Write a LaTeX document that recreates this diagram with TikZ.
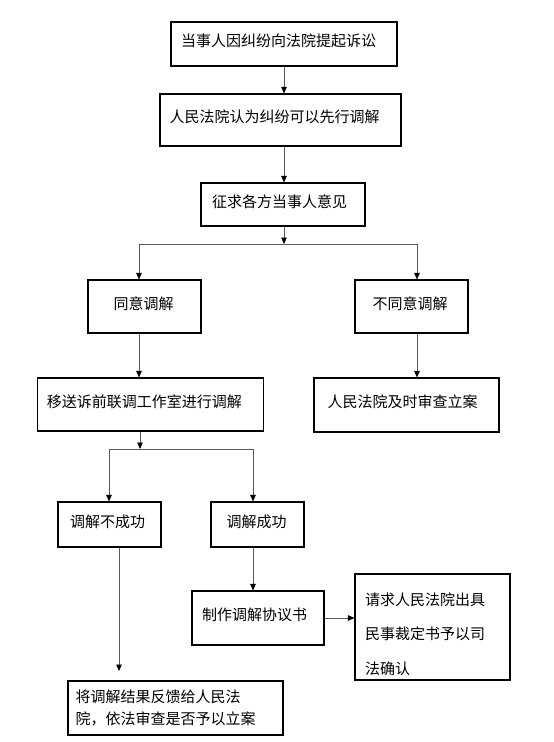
\documentclass[tikz,border=0pt]{standalone}
\usepackage{fontspec}
\setmainfont{Noto Sans CJK SC}
\usetikzlibrary{arrows.meta}
\XeTeXlinebreaklocale "zh"
\XeTeXlinebreakskip=0pt plus 1fil
\newcommand{\tx}[2]{\raisebox{3pt}[\height][\depth]{\makebox[#1pt][s]{#2}}}
\begin{document}
\begin{tikzpicture}[x=1pt,y=-1pt,
  box/.style={draw=black,line width=1.1pt,inner sep=0pt,font=\fontsize{15}{18}\selectfont},
  ln/.style={draw=black!65,line width=0.9pt},
  arr/.style={ln,-{Triangle[length=6.5pt,width=5.5pt,color=black]}}]
\useasboundingbox (0,0) rectangle (554,742);
\fill[white] (0,0) rectangle (554,742);
% boxes
\node[box,minimum width=226pt,minimum height=44pt] (n1) at (284,44) {\tx{206}{当事人因纠纷向法院提起诉讼}};
\node[box,minimum width=241pt,minimum height=52pt] (n2) at (280.5,120) {\tx{222}{人民法院认为纠纷可以先行调解}};
\node[box,minimum width=164pt,minimum height=43pt] (n3) at (283,204.5) {\tx{142}{征求各方当事人意见}};
\node[box,minimum width=113pt,minimum height=53pt] (n4) at (144.5,306.5) {\tx{62}{同意调解}};
\node[box,minimum width=113pt,minimum height=53pt] (n5) at (411.5,306.5) {\tx{78}{不同意调解}};
\node[box,minimum width=226pt,minimum height=53pt] (n6) at (150.3,404.5) {\tx{207}{移送诉前联调工作室进行调解}};
\node[box,minimum width=185pt,minimum height=54pt] (n7) at (406.5,405) {\tx{158}{人民法院及时审查立案}};
\node[box,minimum width=103pt,minimum height=45pt] (n8) at (109.5,524.5) {\tx{79}{调解不成功}};
\node[box,minimum width=93pt,minimum height=45pt] (n9) at (257.5,524.5) {\tx{62}{调解成功}};
\node[box,minimum width=132pt,minimum height=54pt] (n10) at (258,618) {\tx{112}{制作调解协议书}};
\node[box,minimum width=155pt,minimum height=106pt] (n11) at (432.5,627) {};
\node[font=\fontsize{15}{34.5}\selectfont,align=left,inner sep=0pt,text width=135pt] (t11) at (432.5,634)
  {\makebox[135pt][s]{请求人民法院出具}\\\makebox[135pt][s]{民事裁定书予以司}\\\mbox{法确认}};
\node[box,minimum width=215pt,minimum height=54pt,align=left,font=\fontsize{15}{22}\selectfont] (n12) at (175.5,708)
  {\makebox[200pt][s]{将调解结果反馈给人民法}\\\makebox[200pt][s]{院，依法审查是否予以立案}};
% branch points
\coordinate (b0) at (284,244);
\coordinate (bl) at (139,244);
\coordinate (br) at (417,244);
\coordinate (c0) at (140,449);
\coordinate (cl) at (109,449);
\coordinate (cr) at (253,449);
\coordinate (e) at (119,671);
% connectors
\draw[arr] (n1.south) -- (n1.south |- n2.north);
\draw[arr] (n1.south |- n2.south) -- (n1.south |- n3.north);
\draw[arr] (b0 |- n3.south) -- (b0);
\draw[ln] (bl) -- (br);
\draw[arr] (bl) -- (bl |- n4.north);
\draw[arr] (br) -- (br |- n5.north);
\draw[arr] (bl |- n4.south) -- (bl |- n6.north);
\draw[arr] (br |- n5.south) -- (br |- n7.north);
\draw[arr] (c0 |- n6.south) -- (c0);
\draw[ln] (cl) -- (cr);
\draw[arr] (cl) -- (cl |- n8.north);
\draw[arr] (cr) -- (cr |- n9.north);
\draw[arr] (cr |- n9.south) -- (cr |- n10.north);
\draw[arr] (n10.east) -- (n10.east -| n11.west);
\draw[arr] (e |- n8.south) -- (e);
\end{tikzpicture}
\end{document}
